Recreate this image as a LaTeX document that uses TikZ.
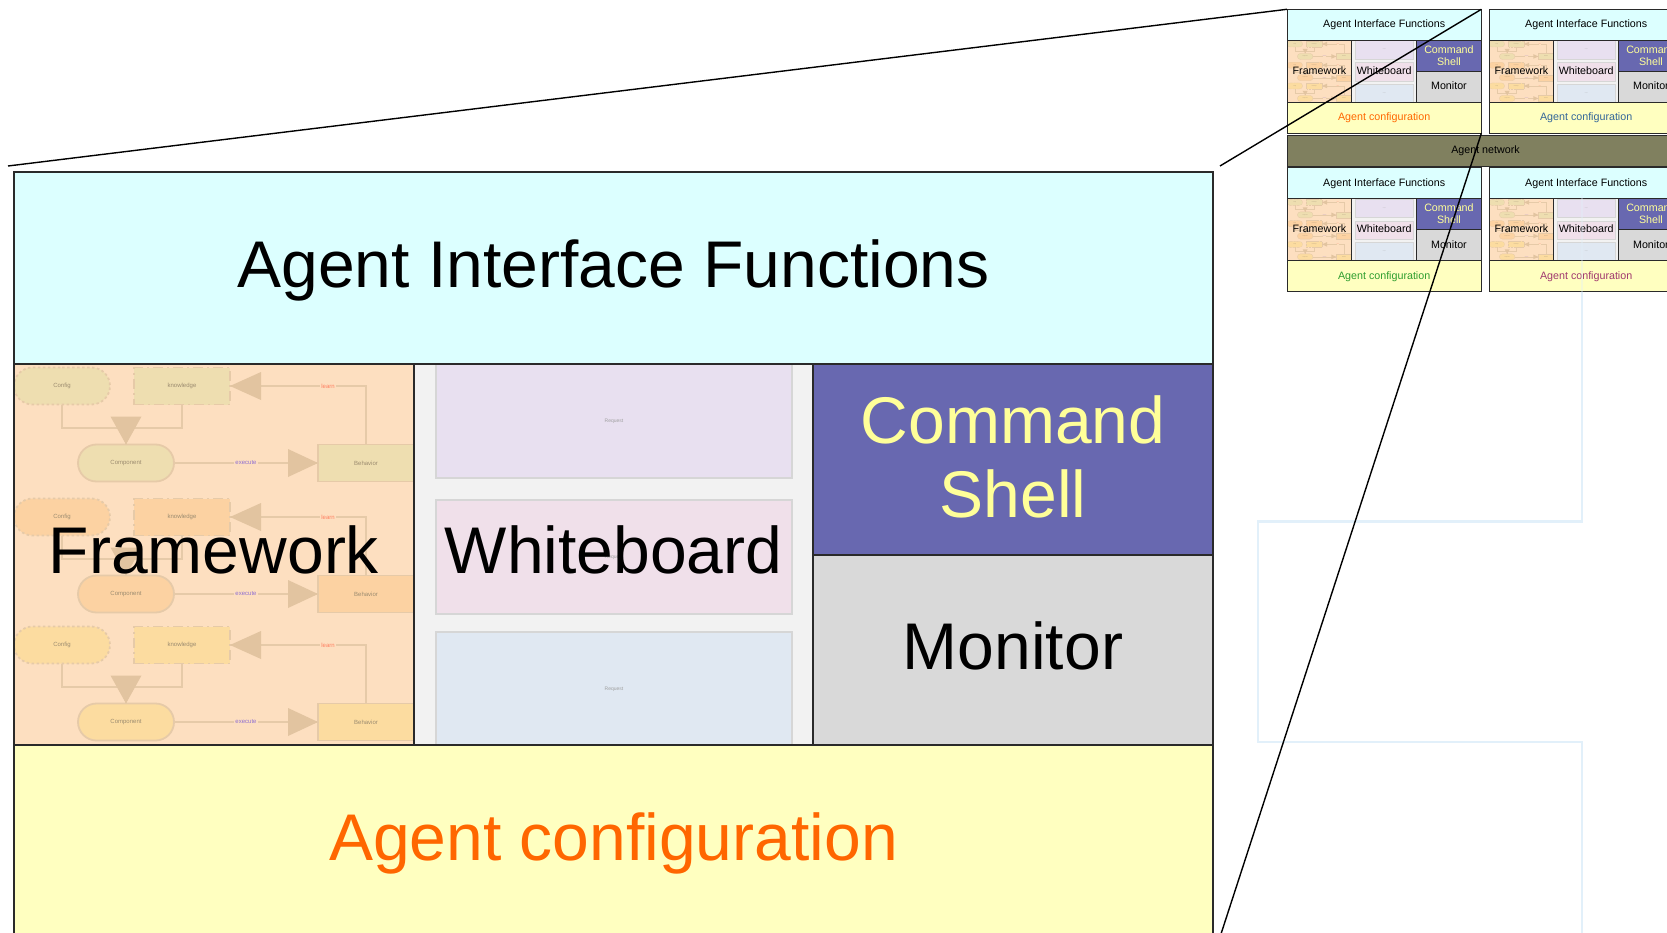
\documentclass[tikz,border=0pt]{standalone}
\usepackage{fontspec}
\setmainfont{Liberation Sans}
\usetikzlibrary{shapes.misc}

\definecolor{aifc}{HTML}{DCFFFF}
\definecolor{fwbg}{HTML}{FDDFC0}
\definecolor{wbbg}{HTML}{F2F2F2}
\definecolor{csc}{HTML}{6868B0}
\definecolor{monc}{HTML}{D9D9D9}
\definecolor{cfgc}{HTML}{FFFFC0}
\definecolor{cstext}{HTML}{FFFF99}
\definecolor{orangec}{HTML}{FF6600}
\definecolor{bluec}{HTML}{336699}
\definecolor{greenc}{HTML}{2E9E2E}
\definecolor{magc}{HTML}{A0386E}
\definecolor{netc}{HTML}{80805F}
\definecolor{rowa}{HTML}{EEDEB0}
\definecolor{rowb}{HTML}{FCD2A2}
\definecolor{rowc}{HTML}{FCDCA0}
\definecolor{fwline}{HTML}{E6CAA8}
\definecolor{fwtip}{HTML}{E2C4A0}
\definecolor{fwtext}{HTML}{9C8C70}
\definecolor{learnc}{HTML}{FF7F60}
\definecolor{execc}{HTML}{9070D0}
\definecolor{reqa}{HTML}{E8E0F0}
\definecolor{reqb}{HTML}{F0E0EA}
\definecolor{reqc}{HTML}{E0E8F2}
\definecolor{reqline}{HTML}{D6D6D6}
\definecolor{reqtext}{HTML}{A0A0A0}
\definecolor{cellline}{HTML}{2A2A2A}
\definecolor{ghost}{HTML}{E2F0FA}

\def\fw{1.8pt}
\def\bw{1.5pt}

\tikzset{
  cell/.style={inner sep=0pt, outer sep=0pt, anchor=north west, draw=none},
  biglabel/.style={font=\fontsize{66}{74}\selectfont, align=center, inner sep=0pt},
  oneline/.style={text height=48.8pt, text depth=10.6pt},
  smalltext/.style={font=\fontsize{6}{7}\selectfont},
  pill/.style={rounded rectangle, minimum width=96pt, minimum height=37pt,
    inner sep=0pt, outer sep=0pt, draw=fwline, line width=\fw, smalltext, text=fwtext},
  kbox/.style={rectangle, minimum width=96pt, minimum height=37pt,
    inner sep=0pt, outer sep=0pt, draw=fwline, line width=\fw, smalltext, text=fwtext},
  flow/.style={draw=fwline, line width=\fw},
  tip/.style={fill=fwtip},
  flowlabel/.style={fill=fwbg, inner sep=1pt, smalltext},
  req/.style={rectangle, minimum width=356pt, minimum height=114pt, inner sep=0pt,
    draw=reqline, line width=\fw, font=\fontsize{5}{6}\selectfont, text=reqtext},
  border/.style={draw=cellline, line width=\bw},
  zoomline/.style={draw=black, line width=1.4pt},
  cfgdash/.style={dash pattern=on 2.5pt off 2.5pt},
  kndash/.style={dash pattern=on 10pt off 4pt on 2pt off 4pt},
}

% one row of the framework sketch: Config, knowledge, Component, Behavior
\newcommand\fwrow[3]{%
  \node[pill, fill=#3, cfgdash] (#1-cf) at (48,214+#2) {Config};
  \node[kbox, fill=#3, kndash] (#1-kn) at (168,214+#2) {knowledge};
  \node[pill, fill=#3] (#1-co) at (112,291+#2) {Component};
  \node[kbox, fill=#3] (#1-be) at (352,291+#2) {Behavior};
  \coordinate (#1-j) at (112,256+#2);
  \draw[flow] (#1-cf.south) |- (#1-j) -| (#1-kn.south);
  \draw[flow] (#1-j) -- (#1-co.north);
  \fill[tip] (#1-co.north) -- ++(-15.5,-28) -- ++(31,0) -- cycle;
  \draw[flow] (#1-co.east) -- (#1-be.west);
  \fill[tip] (#1-be.west) -- ++(-30,-14) -- ++(0,28) -- cycle;
  \draw[flow] (#1-be.north) |- (#1-kn.east);
  \fill[tip] (#1-kn.east) -- ++(31,-14) -- ++(0,28) -- cycle;
  \node[flowlabel, text=learnc] (#1-ln) at (314,214+#2) {learn};
  \node[flowlabel, text=execc] (#1-ex) at (232,291+#2) {execute};
}

% an agent block: prefix, x, y, scale, colour of the configuration text
\newcommand\agentbox[5]{%
\begin{scope}[shift={(#2,#3)}, scale=#4, transform shape]
  \coordinate (#1-nw) at (0,0);
  \coordinate (#1-ne) at (1199,0);
  \coordinate (#1-se) at (1199,765);
  \node[cell, fill=aifc, minimum width=1199pt, minimum height=192pt] (#1-aif) at (0,0) {};
  \node[cell, fill=fwbg, minimum width=400pt, minimum height=381pt] (#1-fw) at (0,192) {};
  \node[cell, fill=wbbg, minimum width=399pt, minimum height=381pt] (#1-wb) at (400,192) {};
  \node[cell, fill=csc, minimum width=400pt, minimum height=191pt] (#1-cs) at (799,192) {};
  \node[cell, fill=monc, minimum width=400pt, minimum height=190pt] (#1-mon) at (799,383) {};
  \node[cell, fill=cfgc, minimum width=1199pt, minimum height=192pt] (#1-cfg) at (0,573) {};
  \begin{scope}
    \clip (#1-fw.north west) rectangle (#1-fw.south east);
    \fwrow{#1-r1}{0}{rowa}
    \fwrow{#1-r2}{131}{rowb}
    \fwrow{#1-r3}{259}{rowc}
  \end{scope}
  \begin{scope}
    \clip (#1-wb.north west) rectangle (#1-wb.south east);
    \node[req, fill=reqa] (#1-q1) at (600,249) {Request};
    \node[req, fill=reqb] (#1-q2) at (600,385) {Request};
    \node[req, fill=reqc] (#1-q3) at (600,517) {Request};
  \end{scope}
  \node[biglabel, oneline] (#1-aift) at (#1-aif.center) {Agent Interface Functions};
  \node[biglabel, oneline] (#1-fwt) at (#1-fw.center) {Framework};
  \node[biglabel, oneline] (#1-wbt) at (#1-wb.center) {Whiteboard};
  \node[biglabel, text=cstext] (#1-cst) at ([yshift=3pt]#1-cs.center) {Command\\Shell};
  \node[biglabel, oneline] (#1-mont) at (#1-mon.center) {Monitor};
  \node[biglabel, oneline, text=#5] (#1-cfgt) at (#1-cfg.center) {Agent configuration};
  \draw[border] (#1-nw) rectangle (#1-se);
  \draw[border] (#1-aif.south west) -- (#1-aif.south east);
  \draw[border] (#1-cfg.north west) -- (#1-cfg.north east);
  \draw[border] (#1-fw.north east) -- (#1-fw.south east);
  \draw[border] (#1-wb.north east) -- (#1-wb.south east);
  \draw[border] (#1-cs.south west) -- (#1-cs.south east);
\end{scope}}

\begin{document}
\begin{tikzpicture}[x=1pt, y=-1pt]
  \useasboundingbox (0,0) rectangle (1667,933);
  \clip (0,0) rectangle (1667,933);
  \fill[white] (0,0) rectangle (1667,933);

  % enlarged agent
  \agentbox{big}{14}{172}{1}{orangec}

  % agent network overview
  \def\fw{0.3pt}
  \def\bw{0.8pt}
  \tikzset{cfgdash/.style={dash pattern=on 0.4pt off 0.4pt},
           kndash/.style={dash pattern=on 1.6pt off 0.6pt on 0.3pt off 0.6pt}}
  \node[cell, draw=cellline, line width=0.8pt, fill=netc, minimum width=397pt,
        minimum height=31pt] (net) at (1287,135) {};
  \node[font=\fontsize{10.7}{12}\selectfont, inner sep=0pt] (nett) at (net.center) {Agent network};
  \agentbox{a1}{1287}{9.3}{0.1621}{orangec}
  \agentbox{a2}{1489}{9.3}{0.1621}{bluec}
  \agentbox{a3}{1287}{167.7}{0.1621}{greenc}
  \agentbox{a4}{1489}{167.7}{0.1621}{magc}

  % faint trace behind the overview
  \draw[ghost, line width=2.5pt, opacity=0.35] (1582,195) -- (1582,292);
  \draw[ghost, line width=2.5pt]
    (1582,292) -- (1582,521.5) -- (1258,521.5) -- (1258,742) -- (1582,742) -- (1582,940);

  % magnification lines
  \coordinate (zf-nw) at (8,166);
  \coordinate (zf-ne) at (1220,166);
  \coordinate (zf-se) at (1220,937);
  \draw[zoomline] (zf-nw) -- (a1-nw);
  \draw[zoomline] (zf-ne) -- (a1-ne);
  \draw[zoomline] (a1-se) -- (zf-se);
\end{tikzpicture}
\end{document}
